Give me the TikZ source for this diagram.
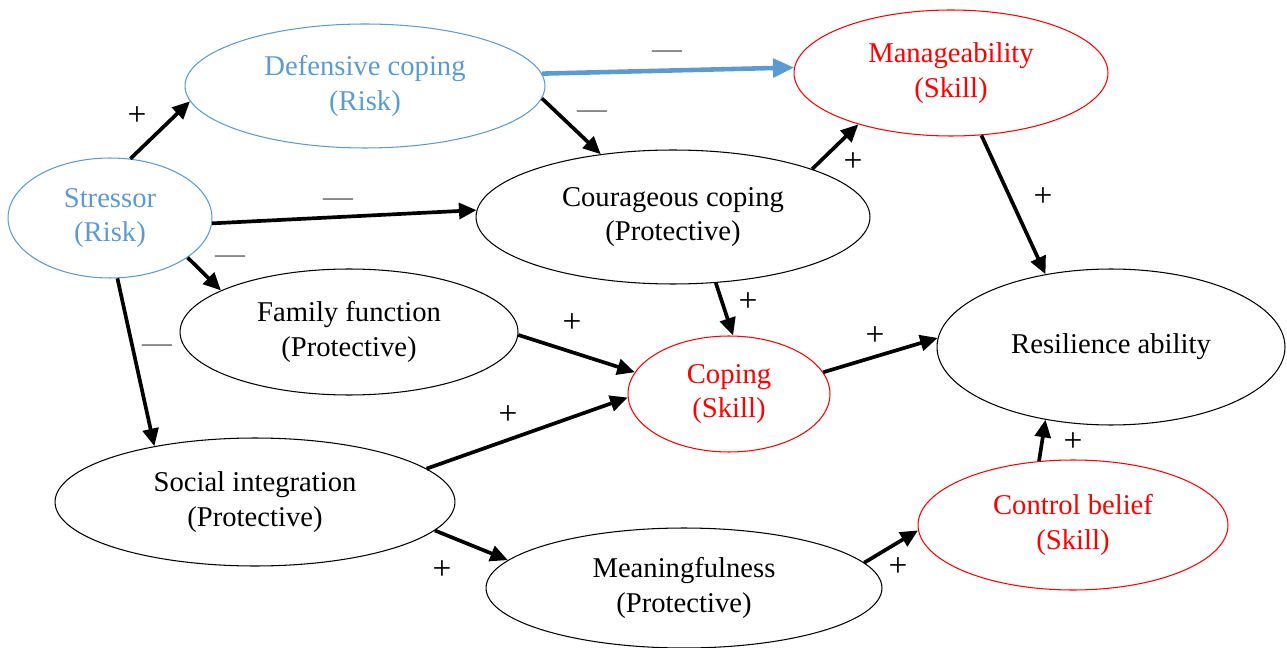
\documentclass[tikz,border=0pt]{standalone}
\usepackage{fontspec}
\setmainfont{Liberation Serif}
\usetikzlibrary{shapes.geometric,arrows.meta}
\definecolor{riskblue}{RGB}{91,155,213}
\definecolor{skillred}{RGB}{255,0,0}
\definecolor{signgray}{RGB}{105,105,105}
\tikzset{
  ell/.style={ellipse,draw,line width=0.6pt,inner sep=0pt,align=center,
    font=\fontsize{16.3}{19.5}\selectfont},
  risk/.style={ell,draw=riskblue,text=riskblue},
  skill/.style={ell,draw=skillred,text=skillred},
  prot/.style={ell,draw=black,text=black},
  arr/.style={line width=2.1pt,-{Triangle[length=10pt,width=9pt]}},
  bluearr/.style={line width=2.6pt,riskblue,-{Triangle[length=12pt,width=10.5pt]}},
  plus/.style={font=\fontsize{19}{20}\selectfont,text=black,inner sep=0pt},
  minus/.style={font=\fontsize{17}{20}\selectfont,text=signgray,inner sep=0pt}
}
\begin{document}
\begin{tikzpicture}[x=0.02cm,y=-0.02cm]
\useasboundingbox (0,0) rectangle (1287,648);
% nodes
\node[risk,minimum width=7.2cm,minimum height=2.48cm] (def) at (365,86) {Defensive coping\\(Risk)};
\node[skill,minimum width=6.28cm,minimum height=2.52cm] (man) at (951,73) {Manageability\\(Skill)};
\node[risk,minimum width=4.08cm,minimum height=2.4cm] (str) at (110,218) {Stressor\\(Risk)};
\node[prot,minimum width=7.88cm,minimum height=2.68cm] (cou) at (673,217) {Courageous coping\\(Protective)};
\node[prot,minimum width=6.76cm,minimum height=2.52cm] (fam) at (349,332) {Family function\\(Protective)};
\node[skill,minimum width=4.04cm,minimum height=2.32cm] (cop) at (729,394) {Coping\\(Skill)};
\node[prot,minimum width=6.96cm,minimum height=3.12cm] (res) at (1111,347) {Resilience ability};
\node[prot,minimum width=8.0cm,minimum height=2.56cm] (soc) at (255,502) {Social integration\\(Protective)};
\node[prot,minimum width=7.92cm,minimum height=2.4cm] (mea) at (684,588) {Meaningfulness\\(Protective)};
\node[skill,minimum width=6.2cm,minimum height=2.6cm] (con) at (1073,525) {Control belief\\(Skill)};
% connectors
\draw[arr] (str.71) -- (def.185);
\draw[bluearr] (def.4) -- (man.178);
\draw[arr] (def.-4) -- (cou.139);
\draw[arr] (str.-3) -- (cou.178.5);
\draw[arr] (str.-27) -- (fam.162);
\draw[arr] (str.-83) -- (soc.151);
\draw[arr] (cou.19) -- (man.209);
\draw[arr] (cou.-57) -- (cop.86);
\draw[arr] (fam.-1.5) -- (cop.167);
\draw[arr] (soc.11) -- (cop.182);
\draw[arr] (cop.13) -- (res.177.5);
\draw[arr] (man.-64) -- (res.132);
\draw[arr] (soc.-9) -- (mea.171.5);
\draw[arr] (mea.8.5) -- (con.182.5);
\draw[arr] (con.118) -- (res.228);
% signs
\node[plus] (l1) at (137,116) {+};
\node[minus] (l2) at (667,55) {—};
\node[minus] (l3) at (592,115) {—};
\node[minus] (l4) at (338,203) {—};
\node[minus] (l5) at (230,260) {—};
\node[minus] (l6) at (157,349) {—};
\node[plus] (l7) at (853,162) {+};
\node[plus] (l8) at (748,302) {+};
\node[plus] (l9) at (572,323) {+};
\node[plus] (l10) at (508,415) {+};
\node[plus] (l11) at (875,336) {+};
\node[plus] (l12) at (1043,197) {+};
\node[plus] (l13) at (442,570) {+};
\node[plus] (l14) at (898,567) {+};
\node[plus] (l15) at (1073,442) {+};
\end{tikzpicture}
\end{document}
